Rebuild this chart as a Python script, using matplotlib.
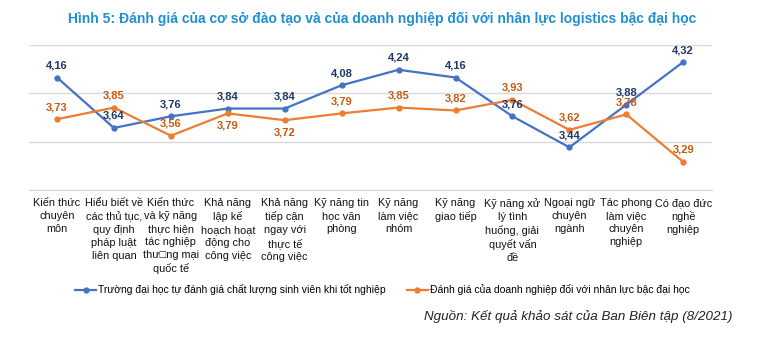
import matplotlib as mpl
import matplotlib.pyplot as plt

mpl.use('Agg')

# nhãn trục hoành
nhom = [
    'Kiến thức\nchuyên\nmôn',
    'Hiểu biết về\ncác thủ tục,\nquy định\npháp luật\nliên quan',
    'Kiến thức\nvà kỹ năng\nthực hiện\ntác nghiệp\nthư\u25a1ng mại\nquốc tế',
    'Khả năng\nlập kế\nhoạch hoạt\nđộng cho\ncông việc',
    'Khả năng\ntiếp cận\nngay với\nthực tế\ncông việc',
    'Kỹ năng tin\nhọc văn\nphòng',
    'Kỹ năng\nlàm việc\nnhóm',
    'Kỹ năng\ngiao tiếp',
    'Kỹ năng xử\nlý tình\nhuống, giải\nquyết vấn\nđề',
    'Ngoại ngữ\nchuyên\nngành',
    'Tác phong\nlàm việc\nchuyên\nnghiệp',
    'Có đạo đức\nnghề\nnghiệp',
]

truong = [4.16, 3.64, 3.76, 3.84, 3.84, 4.08, 4.24, 4.16, 3.76, 3.44, 3.88, 4.32]
doanhNghiep = [3.73, 3.85, 3.56, 3.79, 3.72, 3.79, 3.85, 3.82, 3.93, 3.62, 3.78, 3.29]
# nhãn cam nằm dưới điểm
duoi = [3, 4]

tenTruong = 'Trường đại học tự đánh giá chất lượng sinh viên khi tốt nghiệp'
tenDN = 'Đánh giá của doanh nghiệp đối với nhân lực bậc đại học'

plt.rcParams['font.family'] = ['Liberation Sans', 'DejaVu Sans']

xanh = '#4472C4'
cam = '#ED7D31'

fig = plt.figure(figsize=(7.65, 3.48), dpi=100)
ax = fig.add_axes([0.0373, 0.454, 0.893, 0.418])

x = list(range(len(nhom)))
ax.plot(x, truong, color=xanh, lw=1.6, marker='o', ms=3.5, label=tenTruong)
ax.plot(x, doanhNghiep, color=cam, lw=1.6, marker='o', ms=3.5, label=tenDN)

def fmt(v):
    return ('%.2f' % v).replace('.', ',')

for i, v in enumerate(truong):
    ax.annotate(fmt(v), (i, v), xytext=(0, 5), textcoords='offset points',
                ha='center', va='bottom', fontsize=8, fontweight='bold',
                color='#1F3864')
for i, v in enumerate(doanhNghiep):
    dy = -5 if i in duoi else 5
    ax.annotate(fmt(v), (i, v), xytext=(0, dy), textcoords='offset points',
                ha='center', va='top' if i in duoi else 'bottom',
                fontsize=8, fontweight='bold', color='#C55A11')

ax.set_xlim(-0.5, len(nhom) - 0.5)
ax.set_ylim(3.0, 4.5)
ax.set_yticks([3.0, 3.5, 4.0, 4.5])
ax.set_yticklabels([])
ax.grid(axis='y', color='#D9D9D9', lw=1)
ax.set_axisbelow(True)
for s in ['top', 'right', 'left']:
    ax.spines[s].set_visible(False)
ax.spines['bottom'].set_color('#D9D9D9')
ax.tick_params(axis='both', length=0)
ax.set_xticks(x)
ax.set_xticklabels(nhom, fontsize=7.8, linespacing=1.35,
                   va='top', color='#111111')
ax.tick_params(axis='x', pad=6)

fig.legend(loc='center', bbox_to_anchor=(0.5, 0.167), ncol=2, frameon=False,
           prop={'size': 7.5}, handlelength=2.0,
           handletextpad=0.2, columnspacing=2.0)

fig.text(0.5, 0.945, 'Hình 5: Đánh giá của cơ sở đào tạo và của doanh nghiệp đối với nhân lực logistics bậc đại học',
         ha='center', va='center', fontsize=10, fontweight='bold',
         color='#1E90D0')
fig.text(0.958, 0.09, 'Nguồn: Kết quả khảo sát của Ban Biên tập (8/2021)',
         ha='right', va='center', fontsize=9.6, style='italic',
         color='#222222')

fig.savefig('out.png', dpi=100)
